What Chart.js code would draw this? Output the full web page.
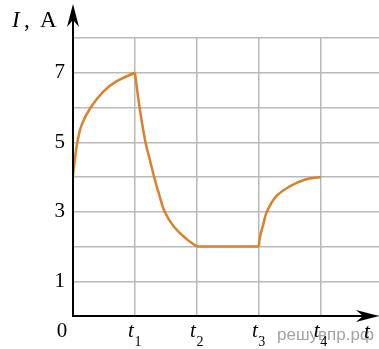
<!DOCTYPE html>
<html>
<head>
<meta charset="utf-8">
<script src="https://cdn.jsdelivr.net/npm/chart.js@4/dist/chart.umd.min.js"></script>
<style>
  body { margin: 0; background: #fff; }
  #wrap { width: 379px; height: 349px; }
</style>
</head>
<body>
<div id="wrap"><canvas id="currentChart" width="379" height="349"></canvas></div>
<script>
// I(t), one piece per interval
const riseT = [0, 0.03, 0.07, 0.14, 0.285, 0.49, 0.7, 1];
const riseI = [4.05, 4.5, 5, 5.5, 6, 6.46, 6.75, 7];
const fallT = [1, 1.075, 1.17, 1.24, 1.31, 1.39, 1.48, 1.63, 1.83, 2];
const fallI = [7, 6, 5, 4.5, 4, 3.5, 3, 2.57, 2.22, 2];
const flatT = [2, 3];
const flatI = [2, 2];
const rise2T = [3, 3.02, 3.07, 3.13, 3.28, 3.5, 3.74, 4];
const rise2I = [2, 2.29, 2.62, 3, 3.44, 3.73, 3.92, 4];

const yTickLabels = [1, 3, 5, 7];
const xTickValues = [1, 2, 3, 4];
const xTickSubs = ["1", "2", "3", "4"];

const lineColor = "#d9822b";
const serif = "'Liberation Serif', 'DejaVu Serif', serif";

function piece(ts, vals) {
  return {
    data: ts.map((t, i) => ({ x: t, y: vals[i] })),
    borderColor: lineColor,
    borderWidth: 2.5,
    pointRadius: 0,
    tension: 0.4,
    fill: false,
  };
}

function arrowHead(ctx, tipX, tipY, dir) {
  // dir: "up" or "right"
  const len = 23, half = 6, notch = 16;
  ctx.beginPath();
  if (dir === "up") {
    ctx.moveTo(tipX, tipY);
    ctx.lineTo(tipX - half, tipY + len);
    ctx.lineTo(tipX, tipY + notch);
    ctx.lineTo(tipX + half, tipY + len);
  } else {
    ctx.moveTo(tipX, tipY);
    ctx.lineTo(tipX - len, tipY - half);
    ctx.lineTo(tipX - notch, tipY);
    ctx.lineTo(tipX - len, tipY + half);
  }
  ctx.closePath();
  ctx.fill();
}

const axesPlugin = {
  id: "axesPlugin",
  afterDraw(chart) {
    const ctx = chart.ctx;
    const xs = chart.scales.x;
    const ys = chart.scales.y;
    const x0 = xs.getPixelForValue(0);
    const y0 = ys.getPixelForValue(0);
    ctx.save();
    ctx.strokeStyle = "#000";
    ctx.fillStyle = "#000";
    ctx.lineWidth = 2;
    ctx.beginPath();
    ctx.moveTo(x0, y0);
    ctx.lineTo(x0, 14);
    ctx.moveTo(x0 - 1, y0);
    ctx.lineTo(370, y0);
    ctx.stroke();
    arrowHead(ctx, x0, 4, "up");
    arrowHead(ctx, 379, y0, "right");

    // watermark
    ctx.fillStyle = "#a3a3a3";
    ctx.font = "17px 'Liberation Sans', sans-serif";
    ctx.textAlign = "left";
    ctx.textBaseline = "alphabetic";
    ctx.fillText("решувпр.рф", 277, 340);

    // axis names
    ctx.fillStyle = "#000";
    ctx.font = "italic 23px " + serif;
    ctx.fillText("I", 12, 27);
    ctx.font = "23px " + serif;
    ctx.fillText(",", 24, 27);
    ctx.fillText("A", 40, 27);
    ctx.font = "italic 21px " + serif;
    ctx.fillText("t", 364, 338);

    // origin
    ctx.font = "21px " + serif;
    ctx.textAlign = "center";
    ctx.fillText("0", 62, 337);

    // t1..t4
    xTickValues.forEach((v, i) => {
      const px = xs.getPixelForValue(v);
      ctx.textAlign = "center";
      ctx.font = "italic 21px " + serif;
      ctx.fillText("t", px - 4, 337);
      ctx.font = "14px " + serif;
      ctx.fillText(xTickSubs[i], px + 3, 346);
    });
    ctx.restore();
  },
};

new Chart(document.getElementById("currentChart"), {
  type: "line",
  data: {
    datasets: [
      piece(riseT, riseI),
      piece(fallT, fallI),
      piece(flatT, flatI),
      piece(rise2T, rise2I),
    ],
  },
  options: {
    responsive: false,
    animation: false,
    layout: { padding: { top: 38, right: 0, left: 0, bottom: 0 } },
    plugins: { legend: { display: false }, tooltip: { enabled: false } },
    scales: {
      x: {
        type: "linear",
        min: 0,
        max: 4.94,
        afterFit: (s) => { s.height = 33; },
        border: { display: false },
        grid: { color: "#b9b9b9", lineWidth: 1.5, drawTicks: false },
        ticks: { stepSize: 1, includeBounds: false, display: false },
      },
      y: {
        min: 0,
        max: 8,
        afterFit: (s) => { s.width = 73; },
        border: { display: false },
        grid: { color: "#b9b9b9", lineWidth: 1.5, drawTicks: false },
        ticks: {
          stepSize: 1,
          padding: 8,
          color: "#000",
          font: { family: serif, size: 21 },
          callback: (v) => (yTickLabels.includes(v) ? String(v) : ""),
        },
      },
    },
  },
  plugins: [axesPlugin],
});
</script>
</body>
</html>
